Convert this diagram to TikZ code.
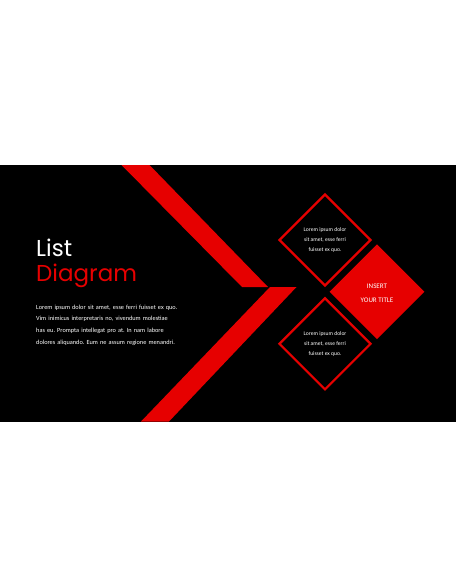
\documentclass[tikz,border=0pt]{standalone}
\usepackage{fontspec}
\setmainfont{Carlito}
\newfontfamily\titlefont{Poppins}
\usetikzlibrary{shapes.geometric}
\definecolor{slidered}{RGB}{230,0,0}
\frenchspacing
\tikzset{
  band/.style={fill=slidered},
  outlinediamond/.style={diamond, aspect=1, draw=slidered, line width=2.2pt, minimum width=92pt, minimum height=92pt, inner sep=0pt},
  filleddiamond/.style={diamond, aspect=1, fill=slidered, minimum width=95pt, minimum height=95pt, inner sep=0pt},
  diamondtext/.style={text=white, align=center, inner sep=0pt, font=\fontsize{5.6}{10.2}\selectfont},
  titletext/.style={text=white, align=center, inner sep=0pt, font=\fontsize{7}{13.3}\selectfont},
  bigtitle/.style={anchor=base west, inner sep=0pt, font=\titlefont\fontsize{23}{26}\selectfont},
  bodytext/.style={anchor=north west, inner sep=0pt, text=white, align=left, text width=180pt, font=\fontsize{6.3}{11.8}\selectfont}
}
\begin{document}
\begin{tikzpicture}[x=1pt,y=-1pt]
\useasboundingbox (0,0) rectangle (456,586);
\fill[white] (0,0) rectangle (456,586);
\fill[black] (0,165) rectangle (456,421.5);
% chevron bands
\fill[band] (121.5,165) -- (149.5,165) -- (268,287) -- (242,287) -- cycle;
\fill[band] (270,287) -- (296.5,287) -- (169,421.5) -- (141,421.5) -- cycle;
% diamonds
\node[outlinediamond] (d1) at (325,240) {};
\node[outlinediamond] (d2) at (325,343.8) {};
\node[filleddiamond] (d3) at (377,291.7) {};
\node[diamondtext] (t1) at (325,240) {Lorem ipsum dolor\\sit amet, esse ferri\\fuisset ex quo.};
\node[diamondtext] (t2) at (325,344.2) {Lorem ipsum dolor\\sit amet, esse ferri\\fuisset ex quo.};
\node[titletext] (t3) at (377,293.3) {INSERT\\YOUR TITLE};
% left text
\node[bigtitle, text=white] (list) at (36,256.7) {List};
\node[bigtitle, text=slidered] (diag) at (36,281.7) {Diagram};
\node[bodytext] (body) at (36,304.5) {Lorem ipsum dolor sit amet, esse ferri fuisset ex quo.\\Vim inimicus interpretaris no, vivendum molestiae\\has eu. Prompta intellegat pro at. In nam labore\\dolores aliquando. Eum ne assum regione menandri.};
\end{tikzpicture}
\end{document}
